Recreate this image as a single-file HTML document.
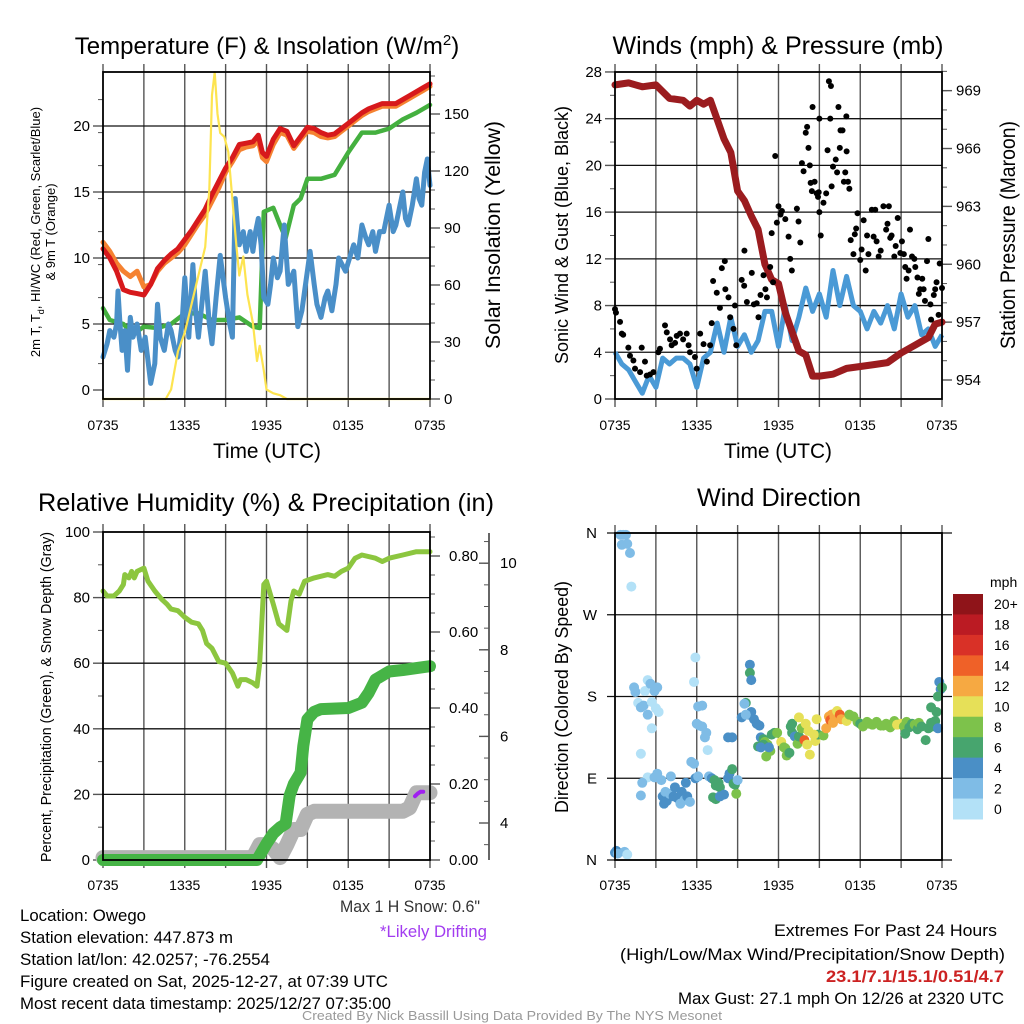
<!DOCTYPE html>
<html><head><meta charset="utf-8"><style>
html,body{margin:0;padding:0;background:#fff;}
svg{display:block;font-family:"Liberation Sans",Arial,sans-serif;}
</style></head><body>
<svg id="s" width="1024" height="1024" viewBox="0 0 1024 1024" xmlns="http://www.w3.org/2000/svg">
<rect width="1024" height="1024" fill="#fff"/>
<g id="texts" fill="#000">
<text x="267" y="54" font-size="24" text-anchor="middle">Temperature (F) &amp; Insolation (W/m<tspan dy="-9" font-size="15">2</tspan><tspan dy="9">)</tspan></text>
<text x="778" y="54" font-size="25" text-anchor="middle" textLength="331" lengthAdjust="spacingAndGlyphs">Winds (mph) &amp; Pressure (mb)</text>
<text x="266" y="511" font-size="25" text-anchor="middle" textLength="456" lengthAdjust="spacingAndGlyphs">Relative Humidity (%) &amp; Precipitation (in)</text>
<text x="779" y="506" font-size="25" text-anchor="middle" textLength="164" lengthAdjust="spacingAndGlyphs">Wind Direction</text>
<text x="267" y="458" font-size="21" text-anchor="middle" textLength="108" lengthAdjust="spacingAndGlyphs">Time (UTC)</text>
<text x="778" y="458" font-size="21" text-anchor="middle" textLength="108" lengthAdjust="spacingAndGlyphs">Time (UTC)</text>
<text transform="translate(40,232) rotate(-90)" font-size="13" text-anchor="middle">2m T, T<tspan dy="4" font-size="9">d</tspan><tspan dy="-4">, HI/WC (Red, Green, Scarlet/Blue)</tspan></text>
<text transform="translate(55,232) rotate(-90)" font-size="13" text-anchor="middle">&amp; 9m T (Orange)</text>
<text transform="translate(500,235) rotate(-90)" font-size="21" text-anchor="middle" textLength="228" lengthAdjust="spacingAndGlyphs">Solar Insolation (Yellow)</text>
<text transform="translate(568,235) rotate(-90)" font-size="18" text-anchor="middle" textLength="258" lengthAdjust="spacingAndGlyphs">Sonic Wind &amp; Gust (Blue, Black)</text>
<text transform="translate(1015,235) rotate(-90)" font-size="21" text-anchor="middle" textLength="228" lengthAdjust="spacingAndGlyphs">Station Pressure (Maroon)</text>
<text transform="translate(51,697) rotate(-90)" font-size="15" text-anchor="middle" textLength="330" lengthAdjust="spacingAndGlyphs">Percent, Precipitation (Green), &amp; Snow Depth (Gray)</text>
<text transform="translate(568,697) rotate(-90)" font-size="18" text-anchor="middle" textLength="232" lengthAdjust="spacingAndGlyphs">Direction (Colored By Speed)</text>
<text x="480" y="912" font-size="17" text-anchor="end" fill="#333" textLength="140" lengthAdjust="spacingAndGlyphs">Max 1 H Snow: 0.6"</text>
<text x="487" y="937" font-size="17" text-anchor="end" fill="#a23cf0" textLength="107" lengthAdjust="spacingAndGlyphs">*Likely Drifting</text>
<g font-size="17">
<text x="20" y="921" textLength="126" lengthAdjust="spacingAndGlyphs">Location: Owego</text>
<text x="20" y="943" textLength="213" lengthAdjust="spacingAndGlyphs">Station elevation: 447.873 m</text>
<text x="20" y="965" textLength="250" lengthAdjust="spacingAndGlyphs">Station lat/lon: 42.0257; -76.2554</text>
<text x="20" y="987" textLength="368" lengthAdjust="spacingAndGlyphs">Figure created on Sat, 2025-12-27, at 07:39 UTC</text>
<text x="20" y="1009" textLength="371" lengthAdjust="spacingAndGlyphs">Most recent data timestamp: 2025/12/27 07:35:00</text>
<text x="997" y="936" text-anchor="end" textLength="223" lengthAdjust="spacingAndGlyphs">Extremes For Past 24 Hours</text>
<text x="1005" y="960" text-anchor="end" textLength="385" lengthAdjust="spacingAndGlyphs">(High/Low/Max Wind/Precipitation/Snow Depth)</text>
<text x="1004" y="982" text-anchor="end" fill="#cc2222" font-weight="bold" textLength="178" lengthAdjust="spacingAndGlyphs">23.1/7.1/15.1/0.51/4.7</text>
<text x="1004" y="1004" text-anchor="end" textLength="326" lengthAdjust="spacingAndGlyphs">Max Gust: 27.1 mph On 12/26 at 2320 UTC</text>
</g>
<text x="512" y="1020" font-size="13" text-anchor="middle" fill="#999" textLength="420" lengthAdjust="spacingAndGlyphs">Created By Nick Bassill Using Data Provided By The NYS Mesonet</text>
</g>
</svg>
<script>
// ---------- Temperature panel data ----------
const tempHours=[0,0.5,1,1.5,2,2.5,3,3.5,4,4.5,5,5.5,6,6.5,7,7.5,8,8.5,9,9.5,10,10.5,11,11.4,11.7,12,12.5,13,13.5,14,14.5,15,15.5,16,16.5,17,17.5,18,18.5,19,19.5,20,20.5,21,21.5,22,22.5,23,23.5,24];
const temp2m=[10.7,10,9,7.6,7.4,7.3,7.2,8,9.2,9.8,10.3,10.7,11.4,12.1,12.9,13.7,14.8,15.8,16.8,17.6,18.6,18.7,18.8,19.3,18,17.7,19,19.8,19.6,18.5,19.2,19.9,19.8,19.5,19.3,19.4,19.8,20.2,20.6,21,21.3,21.5,21.7,21.7,21.7,22,22.3,22.6,22.9,23.2];
const temp9m=[11.2,10.5,9.6,9,8.6,9,7.8,8,9,9.6,10,10.4,11,11.8,12.6,13.3,14.3,15.3,16.5,17.3,18.2,18.4,18.5,18.9,17.6,17.3,18.6,19.5,19.3,18.3,19,19.6,19.5,19.2,19.1,19.2,19.6,20,20.4,20.8,21.1,21.3,21.5,21.5,21.5,21.8,22.1,22.4,22.7,23];
const dewHours=[0,0.5,1.5,2.2,3,4,5,6,7,8,9,10,11,11.5,11.8,12.5,13,13.4,14,14.5,15,16,17,18,19,20,21,22,23,24];
const dewVals=[6.2,5.3,5,4.2,4.8,4.7,5,5.8,5.8,5.3,5.3,5.5,4.8,4.7,13.5,13.8,12.5,11.5,14,14.5,16,16,16.3,18,19.5,19.5,19.8,20.5,21,21.6];
const wcHours=[0,0.3,0.5,0.8,1,1.1,1.25,1.4,1.6,1.8,2,2.2,2.5,2.8,3.1,3.5,3.8,4,4.2,4.5,4.8,5,5.3,5.5,5.8,6,6.3,6.6,6.8,7,7.3,7.5,7.8,8,8.3,8.6,9,9.3,9.5,9.7,9.9,10,10.3,10.5,10.8,11,11.2,11.4,11.6,11.8,12.1,12.3,12.5,12.8,13,13.3,13.6,14,14.3,14.6,14.8,15.2,15.5,15.7,16,16.3,16.5,16.8,17.1,17.3,17.8,18.1,18.4,18.7,19,19.3,19.5,19.8,20,20.3,20.6,21,21.3,21.5,21.8,22,22.2,22.4,22.7,23,23.2,23.4,23.6,23.8,24];
const wcVals=[2.5,3.5,4.5,4,5,7.5,5,3,4.5,1.5,5.5,4,5,3,4,0.5,2,6.5,4,3,5,4.5,3,2.5,5,8.5,4,9.5,6,4,7,9,5,3.5,7,10.2,7,5,4,14.5,12,11,12,10.5,12,10.5,12,13,11,7,6.5,8,10,8.5,9,12.5,8,9,4.8,6,7.5,10.5,8,6.5,5.5,7,7.5,6,8,10,9,10,11,10,12.5,11.5,11,12,10.5,12,12,14,12,12.5,14,15,13,12.5,14,16,14.5,14,16.5,17.5,15.5];
const solarHours=[0,4.6,5,5.5,6,6.5,7,7.5,7.8,8,8.2,8.4,8.6,8.9,9.2,9.5,9.8,10,10.3,10.6,11,11.3,11.5,11.8,12,12.5,13,13.5,24];
const solarVals=[0,0,5,25,35,50,65,80,110,160,172,150,140,138,130,105,80,65,75,55,40,20,28,15,5,3,2,0,0];
// ---------- Wind panel data ----------
const windHours=[0,0.5,1,1.5,2,2.5,3,3.5,4,4.5,5,5.5,6,6.5,7,7.5,8,8.5,9,9.5,10,10.5,11,11.5,12,12.5,13,13.5,14,14.5,15,15.5,16,16.5,17,17.5,18,18.5,19,19.5,20,20.5,21,21.5,22,22.5,23,23.5,24];
const windVals=[4,3,2.5,1.5,0.5,2,1,3.5,3,3.5,3.5,3,1,3.5,4,6.5,4,7,4.5,5.5,4,5,7.5,7.5,4.5,8,5,7,9.5,7.5,9,7,11,8,10.5,8,7.5,6,7.5,6.5,8,6,9,7,8,5.5,6,4.5,5.5];
const presHours=[0,1,2,3,4,5,5.5,6,6.5,7,7.5,8,8.5,9,9.5,10,10.5,11,11.5,12,12.5,13,13.5,14,14.5,15,16,17,18,19,20,21,22,23,23.5,24];
const presVals=[969.3,969.4,969.2,969.3,968.6,968.5,968.2,968.5,968.3,968.5,967.5,966.5,965.8,963.8,963.3,962.5,961.8,960,959.2,959,957.5,956.5,955.5,955.3,954.2,954.2,954.3,954.6,954.7,954.8,954.9,955.4,955.8,956.2,956.9,957];
const gustHours=[0,0.07,0.37,0.5,0.6,0.98,1.1,1.35,1.47,1.96,1.84,2.2,2.33,2.57,2.82,3.18,3.3,3.67,3.8,4.04,4.16,4.41,4.53,4.77,5,5.26,5.4,5.5,5.87,6,6.25,6.5,6.74,6.98,7.1,7.2,7.47,7.7,7.84,8.06,8.1,8.33,8.45,8.7,8.8,8.9,9.3,9.48,9.5,9.68,10.04,10.19,10.4,10.53,10.68,10.9,11.04,11.15,11.39,11.5,11.6,11.76,11.88,12,12.15,12.25,12.5,12.74,12.86,12.98,13.35,13.47,13.6,13.72,13.84,14,14.1,14.2,14.3,14.36,14.45,14.5,14.65,14.8,14.9,14.95,15,15,15.1,15.3,15.5,15.6,15.7,15.85,15.8,15.9,16,16.2,16.3,16.4,16.5,16.55,16.7,16.8,16.9,16.98,17,17.1,17.2,17.3,17.5,17.6,17.7,17.8,18,18.1,18.25,18.4,18.5,18.6,18.85,18.98,19.1,19.2,19.35,19.5,19.7,19.9,20,20.1,20.2,20.3,20.5,20.6,20.75,20.94,21.06,21.2,21.3,21.4,21.55,21.65,21.8,21.97,22.04,22.2,22.3,22.4,22.55,22.65,22.75,22.9,23,23.15,23.2,23.4,23.5,23.6,23.75,23.83,24];
const gustVals=[7.7,7.4,6.6,5.6,5.5,4.4,3.7,3.3,2.6,4.4,2.3,3.2,2,2.1,2.3,4,4.3,6.3,5.7,5.1,4.6,4.8,5.4,5.6,5.1,5.6,4.6,4,3.6,2.6,5.6,4.7,3.2,4.6,6.5,10.1,9.1,7.8,11.2,11.8,9.4,8.7,7,6,8,4.6,10.2,9.7,12.7,8.3,10.8,8.1,8.2,7,8.9,10.6,9.4,8.7,11.3,14.2,10,20.8,15.1,16.5,15.8,16.1,15.4,13.9,12,11,16.3,15.2,13.4,20.2,19.5,22.8,23.3,21.5,20,18.5,17.8,25,18.6,17.6,17.3,17.7,16,24,14,16.8,17.6,21.3,27.2,26.8,24,18.2,19.9,20.5,19.4,25,21.5,23,23,18.6,19.4,24.2,21.2,18.6,18,13.6,12.4,14.1,14.6,15.9,11.9,12.8,15.3,11,14,12.4,16.2,13.9,16.2,13.5,12.2,12.7,16.5,14.5,15,16.5,13.8,14,12.2,13.1,15.5,12.5,13.5,12.4,11.3,10.3,11,14.5,12.2,12,11.3,10.4,9,9.4,10.3,9.4,8.4,11.8,13.7,8.1,6.8,8.9,9.4,10,7.2,11.6,9.5];
// ---------- Humidity / precip / snow data ----------
const rhHours=[0,0.3,0.8,1.2,1.5,1.6,1.9,2.1,2.3,2.5,3,3.3,3.8,4.3,4.7,5,5.5,6,6.5,7,7.3,7.6,8,8.5,9,9.5,9.9,10.1,10.5,11,11.3,11.5,11.8,12,12.5,12.9,13.2,13.5,13.8,14,14.4,14.8,15.5,16.5,17,17.5,18,18.5,19,20,20.5,21,22,23,24];
const rhVals=[82,80.5,80.5,82,84,87,86,88,86,88,89,85,82,79.5,78,76.5,76,74,72.5,72,70,66,64.5,60.5,60,57,53,55,55,54,53,60,84,85,78,72,71,70,79,82,81,85,86,87,86.5,88,89,92,93,92,91,92,93,94,94];
const precipHours=[0,11.3,12,12.5,13,13.4,13.7,14,14.5,14.7,15,15.5,16,18,19,19.5,20,21,22,24];
const precipVals=[0,0,0.043,0.07,0.086,0.095,0.17,0.2,0.23,0.3,0.37,0.39,0.397,0.4,0.414,0.44,0.475,0.496,0.5,0.51];
const snowHours=[0,11,11.5,12,12.5,13,13.5,14,14.5,15,15.5,22,22.5,23,24];
const snowVals=[3.2,3.2,3.5,3.5,3.4,3.2,3.5,3.85,3.85,4.2,4.27,4.27,4.35,4.7,4.7];
const driftHours=[22.9,23.1,23.3,23.5];
const driftVals=[4.62,4.68,4.72,4.72];
// ---------- Wind direction data ----------
const dirHours=[0.4,0.6,0.8,0.5,0.9,1.1,1.2,0,0.1,0.2,0.7,0.9,1.4,1.5,1.7,1.9,2.1,2.2,2.4,2.6,2.7,2.9,3.0,3.1,3.2,2.7,2.4,1.9,2.4,2.0,1.9,2.9,3.1,3.4,3.5,3.6,3.7,3.8,4.0,4.1,4.3,4.4,4.6,4.8,4.9,5.1,5.3,5.5,5.2,5.6,5.8,5.9,6.1,5.9,5.8,6.1,6.4,6.2,6.0,6.4,6.7,6.6,6.8,6.9,7.1,7.3,7.4,7.6,7.7,7.2,7.4,7.7,8.0,8.3,8.4,8.6,8.7,8.9,8.8,9.0,8.6,8.3,9.3,9.6,9.9,9.9,10.0,9.5,9.8,10.0,10.2,9.6,10.4,10.6,10.7,10.9,11.0,11.2,11.4,11.1,10.9,10.5,11.3,10.7,11.5,11.7,11.9,12.2,12.4,12.5,12.6,12.8,13,13.0,12.9,13.2,13.4,13.5,13.7,13.5,14.0,14.2,13.9,14.1,14.3,14.7,14.9,14.6,14.8,15.3,15.5,15.7,15.9,15.8,16.1,16.2,16.3,16.5,16.6,16.0,17.0,17.2,17.5,17.8,18.0,18.2,18.5,18.7,18.9,19.2,19.5,19.7,19.9,20.2,20.5,20.7,21.0,21.2,21.4,21.6,21.3,21.8,22.0,22.2,22.3,22.5,22.8,23.0,23.3,23.2,23.5,23.2,23.6,23.7,23.8,23.9,24.0,23.7];
const dirDeg=[358,358,358,347,348,338,301,8,10,7,9,6,190,185,173,168,170,186,198,194,174,186,167,190,163,145,160,117,91,85,71,91,95,88,70,62,75,65,73,92,70,80,68,62,75,66,70,64,85,108,106,90,92,223,196,169,170,148,150,147,140,135,121,92,90,88,82,85,80,69,67,70,72,90,95,100,84,73,83,88,135,135,157,173,215,206,198,172,160,163,155,160,150,148,135,133,130,127,120,114,127,125,124,124,138,140,140,130,124,123,115,118,140,150,147,136,128,136,145,157,150,142,132,127,116,131,138,138,155,137,145,158,160,154,158,162,164,160,155,151,153,160,158,152,150,147,152,150,149,152,148,148,150,146,153,149,150,147,152,146,139,150,149,144,151,147,132,145,147,151,153,168,163,145,196,188,190,180];
const dirSpeed=[2,2,2,2,2,3,1,4,4,3,2,1,2,3,1,2,2,1,1,2,1,3,1,3,1,1,2,1,1,2,2,3,3,3,4,4,3,4,3,3,4,4,4,3,4,3,4,3,4,2,2,4,3,1,1,3,3,3,3,2,3,3,1,3,4,6,6,6,7,6,6,4,4,4,4,6,6,8,7,3,4,4,4,6,4,6,4,3,4,4,4,3,4,4,4,7,8,8,8,8,6,6,4,4,6,6,8,10,8,8,8,7,7,6,6,4,8,7,8,10,10,10,14,10,11,10,6,10,10,8,12,12,12,14,13,12,10,14,12,12,10,8,8,8,7,8,8,8,8,8,8,8,8,8,8,10,10,8,8,7,7,7,8,7,8,7,6,7,7,6,6,7,6,4,4,4,7,6];
const speedBins=["0","2","4","6","8","10","12","14","16","18","20+"];
const speedColors=["#b3e1f7","#7fbce6","#4a8fc6","#47a56e","#7dc24b","#e6e058","#f6a942","#ef6128","#d93127","#bb1b23","#8f1419"];
const timeLabels=["0735","1335","1935","0135","0735"];

const NS="http://www.w3.org/2000/svg";
const svg=document.getElementById('s');
function el(tag,attrs,parent){const e=document.createElementNS(NS,tag);for(const k in attrs)e.setAttribute(k,attrs[k]);(parent||svg).appendChild(e);return e;}
function txt(x,y,s,size,anchor,parent){const t=el('text',{x:x,y:y,'font-size':size,'text-anchor':anchor||'middle','font-family':'Liberation Sans, Arial, sans-serif'},parent);t.textContent=s;return t;}
function path(ts,vs,xf,yf){let d='';for(let i=0;i<ts.length;i++){d+=(i?'L':'M')+xf(ts[i]).toFixed(1)+','+yf(vs[i]).toFixed(1);}return d;}

function frame(L,T,R,B,name){
  const g=el('g',{});
  
  
  const xs=t=>L+t/24*(R-L);
  for(let h=3;h<24;h+=3){const gl=el('line',{x1:xs(h),x2:xs(h),y1:T,y2:B,stroke:'#555','stroke-width':1.4},g);
    
    }
  for(let h=0;h<=24;h+=3){el('line',{x1:xs(h),x2:xs(h),y1:T-8,y2:T,stroke:'#555','stroke-width':1.4},g);el('line',{x1:xs(h),x2:xs(h),y1:B,y2:B+8,stroke:'#555','stroke-width':1.4},g);}
  for(let i=0;i<5;i++){const lb=txt(xs(i*6),430,timeLabels[i],14,'middle',g);
    
    
    if(T>500)lb.setAttribute('y',890);}
  return {g,xs};
}
function box(L,T,R,B,g){const b=el('rect',{x:L,y:T,width:R-L,height:B-T,fill:'none',stroke:'#000','stroke-width':1.8},g);
  
  }
function hgrid(L,R,y,g){const l=el('line',{x1:L,x2:R,y1:y,y2:y,stroke:'#111','stroke-width':1.3},g);
  
  }
function leftTicks(L,vals,labels,yf,g,minor){
  minor.forEach(v=>el('line',{x1:L-5,x2:L,y1:yf(v),y2:yf(v),stroke:'#555','stroke-width':1},g));
  vals.forEach((v,i)=>{el('line',{x1:L-10,x2:L,y1:yf(v),y2:yf(v),stroke:'#555','stroke-width':1.4},g);
    const t=txt(L-13,yf(v)+5,labels[i],15,'end',g);
    
    });
}
function rightTicks(R,vals,labels,yf,g,minor,off){
  minor.forEach(v=>el('line',{x1:R,x2:R+5,y1:yf(v),y2:yf(v),stroke:'#555','stroke-width':1},g));
  vals.forEach((v,i)=>{el('line',{x1:R,x2:R+10,y1:yf(v),y2:yf(v),stroke:'#555','stroke-width':1.4},g);
    const t=txt(R+(off||14),yf(v)+5,labels[i],15,'start',g);
    
    });
}
function range(a,b,s){const r=[];for(let v=a;v<=b+1e-9;v+=s)r.push(+v.toFixed(4));return r;}

// ===== Panel 1: Temperature =====
(function(){
  const L=103,T=72,R=430,B=399;const {g,xs}=frame(L,T,R,B,'temperature-panel');
  const yL=v=>390-v*13.2, yR=v=>399-v*1.9;
  [5,10,15,20].forEach(v=>hgrid(L,R,yL(v),g));
  leftTicks(L,[0,5,10,15,20],['0','5','10','15','20'],yL,g,range(-0.5,24,2.5).filter(v=>v>=0));
  rightTicks(R,range(0,150,30),range(0,150,30).map(String),yR,g,range(0,170,10));
  const ser=[[tempHours,temp9m,'#f58231',5,'temp-9m-line',yL],[dewHours,dewVals,'#44b03f',4.5,'dewpoint-line',yL],[wcHours,wcVals,'#4a8fc8',5,'wind-chill-line',yL],[tempHours,temp2m,'#d7191c',5,'temp-2m-line',yL],[solarHours,solarVals,'#fde450',2.2,'insolation-line',yR]];
  ser.forEach(s=>{const p=el('path',{d:path(s[0],s[1],xs,s[5]),fill:'none',stroke:s[2],'stroke-width':s[3],'stroke-linejoin':'round','stroke-linecap':'round'},g);
    
    });
  box(L,T,R,B,g);
})();
// ===== Panel 2: Wind =====
(function(){
  const L=615,T=72,R=942,B=399;const {g,xs}=frame(L,T,R,B,'wind-panel');
  const yW=v=>399-v*11.68, yP=p=>380-(p-954)*19.29;
  [4,8,12,16,20,24].forEach(v=>hgrid(L,R,yW(v),g));
  leftTicks(L,range(0,28,4),range(0,28,4).map(String),yW,g,range(2,26,4));
  rightTicks(R,range(954,969,3),range(954,969,3).map(String),yP,g,range(954,970,1));
  const w=el('path',{d:path(windHours,windVals,xs,yW),fill:'none',stroke:'#4a9ad6','stroke-width':5,'stroke-linejoin':'round'},g);
  
  
  const p=el('path',{d:path(presHours,presVals,xs,yP),fill:'none',stroke:'#9b1c1f','stroke-width':7,'stroke-linejoin':'round','stroke-linecap':'round'},g);
  
  
  for(let i=0;i<gustHours.length;i++){const c=el('circle',{cx:xs(gustHours[i]),cy:yW(gustVals[i]),r:3,fill:'#000'},g);
    
    }
  box(L,T,R,B,g);
})();
// ===== Panel 3: Humidity =====
(function(){
  const L=103,T=532,R=430,B=860;const {g,xs}=frame(L,T,R,B,'humidity-panel');
  const yH=v=>860-v*3.28, yPr=v=>860-v*380, yS=s=>823-(s-4)*43.3;
  [20,40,60,80].forEach(v=>hgrid(L,R,yH(v),g));
  leftTicks(L,range(0,100,20),range(0,100,20).map(String),yH,g,range(10,90,20));
  rightTicks(R,range(0,0.8,0.2),['0.00','0.20','0.40','0.60','0.80'],yPr,g,range(0,0.85,0.05),19);
  const ax=el('line',{x1:489,x2:489,y1:533,y2:860,stroke:'#333','stroke-width':1.5},g);
  
  
  range(3.5,10.5,0.5).forEach(v=>el('line',{x1:484,x2:489,y1:yS(v),y2:yS(v),stroke:'#555','stroke-width':1},g));
  [4,6,8,10].forEach(v=>{el('line',{x1:479,x2:489,y1:yS(v),y2:yS(v),stroke:'#555','stroke-width':1.4},g);
    const t=txt(500,yS(v)+5,String(v),15,'start',g);
    
    });
  const sn=el('path',{d:path(snowHours,snowVals,xs,yS),fill:'none',stroke:'#b3b3b3','stroke-width':15,'stroke-linejoin':'round','stroke-linecap':'round'},g);
  
  
  const pr=el('path',{d:path(precipHours,precipVals,xs,yPr),fill:'none',stroke:'#46b446','stroke-width':12,'stroke-linejoin':'round','stroke-linecap':'round'},g);
  
  
  const rh=el('path',{d:path(rhHours,rhVals,xs,yH),fill:'none',stroke:'#8cc63f','stroke-width':5,'stroke-linejoin':'round','stroke-linecap':'round'},g);
  
  
  const dr=el('path',{d:path(driftHours,driftVals,xs,yS),fill:'none',stroke:'#a020f0','stroke-width':4,'stroke-linecap':'round'},g);
  
  
  box(L,T,R,B,g);
})();
// ===== Panel 4: Wind direction =====
(function(){
  const L=615,T=533,R=942,B=860;const {g,xs}=frame(L,T,R,B,'wind-direction-panel');
  const yD=d=>860-d*327/360;
  [90,180,270,360].forEach(v=>hgrid(L-8,R+10,yD(v),g));
  hgrid(L-8,R+10,yD(0),g);
  ['N','E','S','W','N'].forEach((s,i)=>{const t=txt(597,yD(i*90)+5,s,15,'end',g);
    
    });
  for(let i=0;i<dirHours.length;i++){
    const bin=Math.min(10,Math.floor(dirSpeed[i]/2));
    const c=el('circle',{cx:xs(dirHours[i]),cy:yD(dirDeg[i]),r:5,fill:speedColors[bin]},g);
    
    
  }
  box(L,T,R,B,g);
  const cb=el('g',{},g);
  
  
  const h=225/11;
  for(let i=0;i<11;i++){const idx=10-i;
    el('rect',{x:953,y:594+i*h,width:30,height:h+0.5,fill:speedColors[idx]},cb);
    const t=txt(994,594+i*h+h/2+5,speedBins[idx],14,'start',cb);
    
    }
  const u=txt(990,587,'mph',14,'start',cb);
  
  
})();
</script>
</body></html>
